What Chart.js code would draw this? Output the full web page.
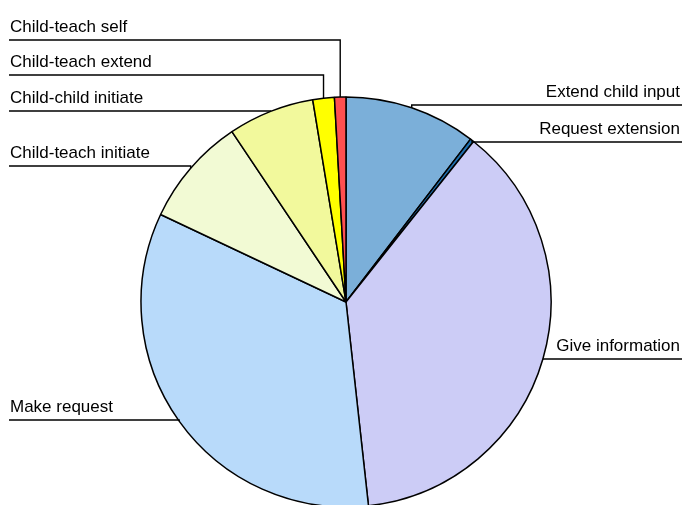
<!DOCTYPE html>
<html>
<head>
<meta charset="utf-8">
<script src="https://cdn.jsdelivr.net/npm/chart.js@4/dist/chart.umd.min.js"></script>
<style>
  html, body { margin: 0; padding: 0; background: #fff; overflow: hidden; }
  canvas { display: block; }
</style>
</head>
<body>
<canvas id="c" width="685" height="505"></canvas>
<script>
// Interaction categories and their share of all coded turns (%)
const categories = [
  'Extend child input',
  'Request extension',
  'Give information',
  'Make request',
  'Child-teach initiate',
  'Child-child initiate',
  'Child-teach extend',
  'Child-teach self'
];
const shares = [10.4, 0.3, 37.6, 33.8, 8.6, 6.8, 1.7, 0.9];

// Slice fills, in category order
const sliceColors = [
  '#7bafd9', '#1f6fae', '#ccccf6', '#b8dafa',
  '#f2fad4', '#f2f99c', '#ffff00', '#ff5050'
];

// Label placement: which side the text sits on and the height of its underline
const labelSide = ['right', 'right', 'right', 'left', 'left', 'left', 'left', 'left'];
const labelLineY = [105, 142, 359, 420, 166, 111, 75, 40];

const LABEL_FONT = '17px "Liberation Sans", Arial, Helvetica, sans-serif';

// Draws each category name with an underline running to the middle of its slice edge
const leaderLabels = {
  id: 'leaderLabels',
  afterDatasetsDraw(chart) {
    const ctx = chart.ctx;
    const meta = chart.getDatasetMeta(0);
    ctx.save();
    ctx.font = LABEL_FONT;
    ctx.fillStyle = '#000';
    ctx.strokeStyle = '#000';
    ctx.lineWidth = 1.4;
    ctx.textBaseline = 'alphabetic';
    meta.data.forEach((arc, i) => {
      const p = arc.getProps(['x', 'y', 'startAngle', 'endAngle', 'outerRadius'], true);
      const mid = (p.startAngle + p.endAngle) / 2;
      const px = p.x + Math.cos(mid) * p.outerRadius;
      const py = p.y + Math.sin(mid) * p.outerRadius;
      const ly = labelLineY[i];
      const left = labelSide[i] === 'left';
      const endX = left ? 9 : 682;

      ctx.beginPath();
      ctx.moveTo(px, py);
      ctx.lineTo(px, ly);
      ctx.lineTo(endX, ly);
      ctx.stroke();

      ctx.textAlign = left ? 'left' : 'right';
      ctx.fillText(categories[i], left ? 10 : 680, ly - 8);
    });
    ctx.restore();
  }
};

new Chart(document.getElementById('c'), {
  type: 'pie',
  data: {
    labels: categories,
    datasets: [{
      data: shares,
      backgroundColor: sliceColors,
      borderColor: '#000',
      borderWidth: 1.5,
      radius: 205,
      clip: false
    }]
  },
  options: {
    responsive: false,
    animation: false,
    events: [],
    layout: { padding: { left: 7, right: 0, top: 99, bottom: 0 } },
    plugins: {
      legend: { display: false },
      tooltip: { enabled: false },
      title: { display: false }
    }
  },
  plugins: [leaderLabels]
});
</script>
</body>
</html>
